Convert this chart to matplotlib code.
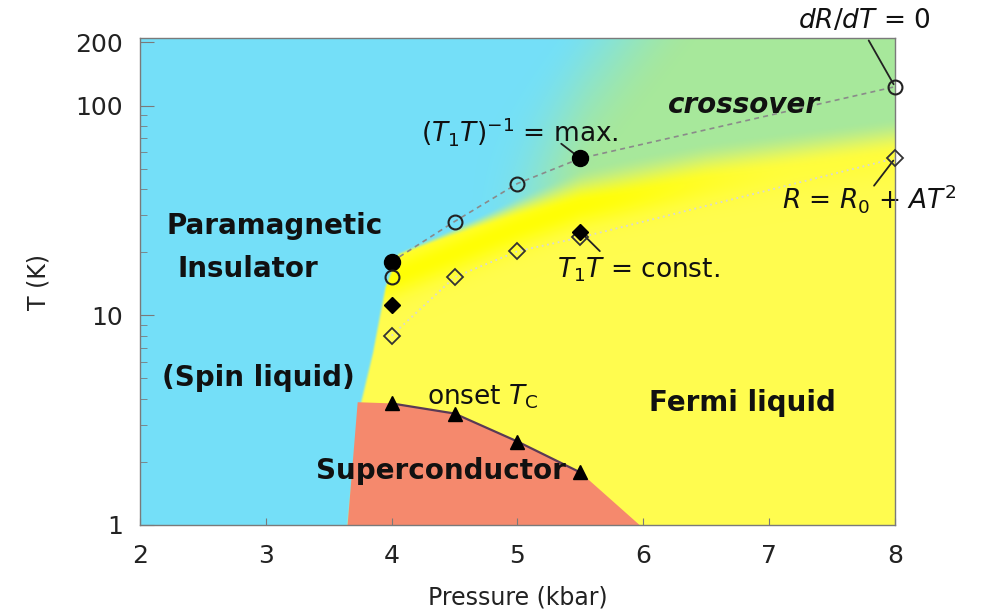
import numpy as np
import matplotlib
matplotlib.use("Agg")
import matplotlib.pyplot as plt
from matplotlib.ticker import FixedLocator, FixedFormatter, NullFormatter, LogLocator

plt.rcParams['font.family'] = ['DejaVu Sans']
plt.rcParams['mathtext.fontset'] = 'dejavusans'

# ---------------- data ----------------
# (T1T)^-1 = max (filled circles)
max_P = [4.0, 5.5]
max_T = [18.0, 56.0]
# open circles on the crossover line
open_circ_P = [4.0, 4.5, 5.0, 8.0]
open_circ_T = [15.2, 28.0, 42.5, 123.0]
# dashed crossover line through circles
cross_line_P = [4.0, 4.5, 5.0, 5.5, 8.0]
cross_line_T = [18.0, 28.0, 42.5, 56.0, 123.0]
# T1T = const (filled diamonds)
t1t_P = [4.0, 5.5]
t1t_T = [11.2, 25.0]
# R = R0 + AT^2 (open diamonds)
fl_P = [4.0, 4.5, 5.0, 5.5, 8.0]
fl_T = [8.0, 15.2, 20.2, 23.5, 56.0]
# onset Tc (triangles)
tc_P = [4.0, 4.5, 5.0, 5.5]
tc_T = [3.8, 3.4, 2.5, 1.78]

# phase-region boundaries (for background shading)
sc_left_P = [3.65, 3.73]
sc_left_T = [1.0, 3.85]
sc_right_P = [5.97]
sc_right_T = [1.0]
ins_P = [3.65, 3.75, 3.85, 3.95, 4.05, 4.08]
ins_T = [1.0, 3.7, 6.6, 13.6, 19.7, 250.0]
xover_P = [4.0, 4.5, 5.0, 5.5, 6.5, 8.0]
xover_T = [19.0, 25.0, 33.0, 42.0, 55.0, 72.0]

# ---------------- figure ----------------
W, H = 987, 614
fig = plt.figure(figsize=(W / 100, H / 100), dpi=100)
ax = fig.add_axes([140 / W, 1 - 525 / H, 755 / W, 487 / H])
ax.set_xlim(2, 8)
ax.set_yscale('log')
ax.set_ylim(1, 210)

# background colour field
nx, ny = 700, 500
Pg = np.linspace(2, 8, nx)
Lg = np.linspace(0, np.log10(210), ny)
PP, LL = np.meshgrid(Pg, Lg)


def smooth(x):
    x = np.clip(x, 0, 1)
    return x * x * (3 - 2 * x)


blue = np.array([0.455, 0.878, 0.973])
green = np.array([0.655, 0.910, 0.610])
yellow = np.array([1.0, 0.99, 0.31])
bright = np.array([1.0, 1.0, 0.02])

Pb = np.interp(LL, np.log10(ins_T), ins_P)
m_left = smooth((PP - Pb) / 0.03 + 0.5)
Lx = np.interp(PP, xover_P, np.log10(xover_T))
wid = 0.02 + 0.16 * smooth((PP - 4.0) / 2.0)
m_top = 1 - smooth((LL - Lx) / wid + 0.5)
m = m_left * m_top

g = smooth((PP - 5.1 - 1.3 * (LL - 1.75)) / 1.2 + 0.5) * smooth((PP - 4.6) / 1.0)
upper = blue[None, None, :] * (1 - g[..., None]) + green[None, None, :] * g[..., None]

band_c = Lx - 0.10
band = np.exp(-((LL - band_c) / 0.10) ** 2) * (1 - 0.75 * smooth((PP - 5.3) / 2.0))
band = band * m_left
lower = yellow[None, None, :] * (1 - band[..., None]) + bright[None, None, :] * band[..., None]

img = upper * (1 - m[..., None]) + lower * m[..., None]
ax.imshow(img, origin='lower', extent=[0, 1, 0, 1], transform=ax.transAxes,
          aspect='auto', interpolation='bilinear', zorder=0)

# superconducting dome
dome_P = sc_left_P + tc_P + sc_right_P
dome_T = sc_left_T + tc_T + sc_right_T
ax.fill(dome_P, dome_T, color='#F5896D', lw=0, zorder=1)

# lines
ax.plot(cross_line_P, cross_line_T, ls=(0, (3, 2.5)), color='#8a8a8a', lw=1.2, zorder=2)
ax.plot(fl_P, fl_T, ls=(0, (1, 2)), color='#d8d8d8', lw=1.3, zorder=2)
ax.plot(tc_P, tc_T, color='#5a3a55', lw=1.6, zorder=2)

# markers
ax.plot(max_P, max_T, 'o', ms=11.5, color='black', zorder=7, clip_on=False)
ax.plot(open_circ_P, open_circ_T, 'o', ms=10, mfc='none', mec='#222222', mew=1.5,
        zorder=7, clip_on=False)
ax.plot(fl_P, fl_T, 'D', ms=8, mfc='none', mec='#333333', mew=1.3, zorder=7, clip_on=False)
ax.plot(t1t_P, t1t_T, 'D', ms=8, color='black', zorder=7, clip_on=False)
ax.plot(tc_P, tc_T, '^', ms=10, color='black', zorder=7, clip_on=False)

# region labels
bold = dict(fontsize=20, fontweight='bold', ha='center', va='center', color='#111111', zorder=5)
ax.text(3.07, 26.8, 'Paramagnetic', **bold)
ax.text(2.86, 16.7, 'Insulator', **bold)
ax.text(2.94, 5.0, '(Spin liquid)', **bold)
ax.text(4.39, 1.81, 'Superconductor', **bold)
ax.text(6.79, 3.81, 'Fermi liquid', **bold)
ax.text(6.80, 101, 'crossover', style='italic', **bold)

reg = dict(fontsize=19, ha='center', va='center', color='#111111', zorder=5)
ax.text(5.02, 75, r'$(T_1T)^{-1}$ = max.', **reg)
ax.text(5.96, 16.5, r'$T_1T$ = const.', **reg)
ax.text(4.72, 4.1, r'onset $T_\mathrm{C}$', **reg)
ax.text(7.80, 36.0, r'$R$ = $R_0$ + $AT^2$', clip_on=False, **reg)
ax.text(7.76, 252, r'$dR/dT$ = 0', clip_on=False, **reg)

# leader lines
ax.annotate('', xy=(5.5, 56.0), xytext=(5.33, 67.0),
            arrowprops=dict(arrowstyle='-', color='#222222', lw=1.3), zorder=5)
ax.annotate('', xy=(5.5, 25.0), xytext=(5.67, 19.8),
            arrowprops=dict(arrowstyle='-', color='#222222', lw=1.3), zorder=5)
ax.annotate('', xy=(8.0, 123.0), xytext=(7.78, 210),
            arrowprops=dict(arrowstyle='-', color='#222222', lw=1.3), annotation_clip=False, zorder=5)
ax.annotate('', xy=(8.0, 56.0), xytext=(7.82, 40.5),
            arrowprops=dict(arrowstyle='-', color='#222222', lw=1.3), annotation_clip=False, zorder=5)

# axes styling
for s in ax.spines.values():
    s.set_color('#7a7a7a')
    s.set_linewidth(1.0)
    s.set_zorder(6)
ax.xaxis.set_major_locator(FixedLocator([2, 3, 4, 5, 6, 7, 8]))
ax.yaxis.set_major_locator(FixedLocator([1, 10, 100, 200]))
ax.yaxis.set_major_formatter(FixedFormatter(['1', '10', '100', '200']))
ax.yaxis.set_minor_locator(LogLocator(base=10, subs=np.arange(2, 10), numticks=10))
ax.yaxis.set_minor_formatter(NullFormatter())
ax.tick_params(axis='both', which='both', direction='in', color='#7a7a7a',
               labelsize=18, labelcolor='#222222')
ax.tick_params(axis='x', which='major', length=5, pad=14)
ax.tick_params(axis='y', which='major', length=10, pad=12)
ax.tick_params(axis='y', which='minor', length=5)
ax.set_xlabel('Pressure (kbar)', fontsize=17, color='#222222', labelpad=12)
ax.set_ylabel('T (K)', fontsize=17, color='#222222', labelpad=18)

fig.savefig('out.png', dpi=100)
